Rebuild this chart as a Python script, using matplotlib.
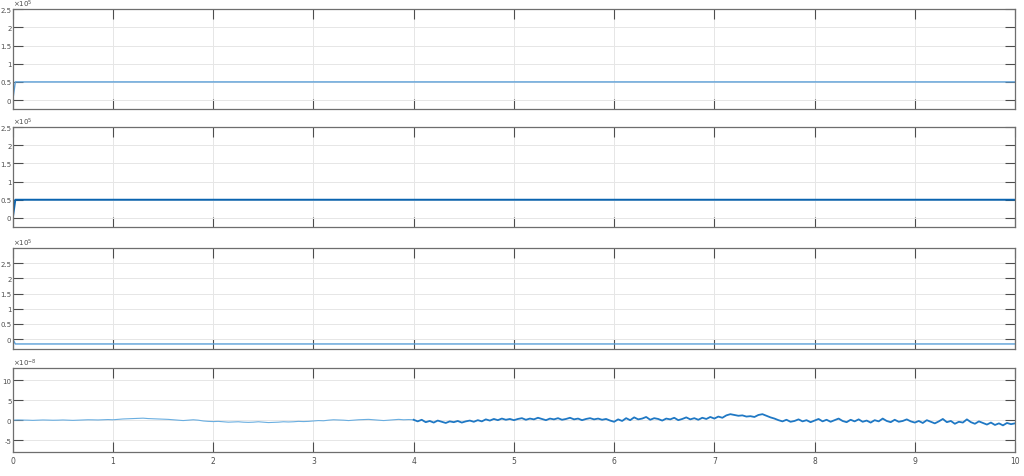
import numpy as np
import matplotlib.pyplot as plt

# step responses (values in units of 1e5)
t_step = [0, 0.025, 10]
y1 = [0, 0.5, 0.5]
y2 = [0, 0.5, 0.5]
y3 = [0, -0.16, -0.16]

# error signal (units of 1e-8), slow part 0..4 s every 0.05 s
e_slow = [0, 0.05, 0.02, 0.0, -0.05, 0.0, 0.05, 0.02, -0.02, 0.0, 0.05,
          0.0, -0.05, 0.0, 0.05, 0.1, 0.08, 0.05, 0.1, 0.15, 0.1,
          0.2, 0.3, 0.35, 0.4, 0.45, 0.5, 0.4, 0.35, 0.3, 0.25,
          0.2, 0.1, 0.0, -0.1, 0.0, 0.1, 0.0, -0.2, -0.3, -0.35,
          -0.3, -0.4, -0.5, -0.45, -0.4, -0.5, -0.55, -0.5, -0.4, -0.5,
          -0.6, -0.55, -0.5, -0.4, -0.45, -0.4, -0.3, -0.35, -0.3, -0.2,
          -0.1, -0.15, 0.0, 0.1, 0.05, 0.0, -0.1, 0.0, 0.1, 0.15,
          0.2, 0.1, 0.0, -0.1, 0.0, 0.1, 0.2, 0.1, 0.15, 0.1]
# noisy part 4.04..10 s every 0.04 s
e_fast = [-0.3, 0.1, -0.5, -0.2, -0.6, -0.1, -0.4, -0.7, -0.3, -0.5, -0.2, -0.6, -0.3,
          -0.1, -0.4, 0.0, -0.3, 0.2, -0.1, 0.3, 0.0, 0.4, 0.1, 0.3, 0.0,
          0.3, 0.5, 0.1, 0.4, 0.2, 0.6, 0.3, 0.0, 0.4, 0.2, 0.5, 0.1, 0.3,
          0.6, 0.2, 0.4, 0.0, 0.3, 0.5, 0.2, 0.4, 0.1, 0.3, -0.1, -0.4,
          0.2, -0.2, 0.5, 0.0, 0.7, 0.2, 0.4, 0.8, 0.1, 0.5, 0.3, -0.1, 0.4,
          0.2, 0.6, 0.0, 0.3, 0.7, 0.2, 0.5, 0.1, 0.6, 0.3, 0.8, 0.4,
          0.9, 0.6, 1.2, 1.5, 1.3, 1.1, 1.2, 0.9, 1.0, 0.8, 1.3, 1.5, 1.1,
          0.7, 0.4, 0.0, -0.3, 0.1, -0.4, -0.2, 0.2, -0.3, 0.0, -0.5, -0.1,
          0.3, -0.3, 0.1, -0.4, 0.0, 0.4, -0.2, -0.5, 0.1, -0.3, 0.2, -0.4, -0.1,
          -0.6, 0.0, -0.3, 0.4, -0.2, -0.5, 0.1, -0.4, -0.2, 0.2, -0.3, -0.6,
          -0.2, -0.7, 0.0, -0.4, -0.8, -0.3, 0.3, -0.5, -0.2, -0.9, -0.4, -0.6, 0.2,
          -0.5, -0.9, -0.3, -0.7, -1.1, -0.6, -1.2, -0.8, -1.3, -0.7, -1.0, -0.8]
t_slow = np.linspace(0, 4, len(e_slow))
t_fast = np.linspace(4.04, 10, len(e_fast))

xticks = list(range(0, 11))

fig = plt.figure(figsize=(10.24, 4.77), dpi=100)

# axes boxes [left, bottom, width, height]
boxes = [[0.0125, 0.769, 0.9787, 0.2096],
         [0.0125, 0.522, 0.9787, 0.2096],
         [0.0125, 0.266, 0.9787, 0.212],
         [0.0125, 0.050, 0.9787, 0.176]]

axs = [fig.add_axes(b) for b in boxes]

axs[0].plot(t_step, y1, color='#5a9fd8', lw=1.0)
axs[1].plot(t_step, y2, color='#0a64b0', lw=1.4)
axs[2].plot(t_step, y3, color='#5a9fd8', lw=1.0)
axs[3].plot(t_slow, e_slow, color='#6aaee0', lw=0.8)
axs[3].plot(np.concatenate([[4.0], t_fast]), [0.1] + e_fast, color='#1f78c4', lw=1.3)

ylims = [(-0.25, 2.5), (-0.25, 2.5), (-0.33, 3.0), (-8, 13)]
yticks = [[0, 0.5, 1, 1.5, 2, 2.5], [0, 0.5, 1, 1.5, 2, 2.5],
          [0, 0.5, 1, 1.5, 2, 2.5], [-5, 0, 5, 10]]
exps = [r'$\times10^{5}$', r'$\times10^{5}$', r'$\times10^{5}$', r'$\times10^{-8}$']

for i, ax in enumerate(axs):
    ax.set_xlim(0, 10)
    ax.set_ylim(*ylims[i])
    ax.set_xticks(xticks)
    ax.set_yticks(yticks[i])
    ax.set_yticklabels([('%g' % v) for v in yticks[i]])
    ax.grid(True, color='#e6e6e6', lw=0.7)
    ax.set_axisbelow(True)
    ax.tick_params(direction='in', length=7, width=0.8, top=True, right=True,
                   labelsize=5, colors='#4d4d4d', pad=1)
    ax.tick_params(axis='x', pad=3, labelsize=5.5)
    for s in ax.spines.values():
        s.set_color('#6e6e6e')
        s.set_linewidth(0.9)
    if i < 3:
        ax.set_xticklabels([])
    ax.text(0.0, 1.0, exps[i], transform=ax.transAxes, fontsize=5,
            color='#4d4d4d', va='bottom', ha='left')

fig.savefig('out.png', dpi=100)
